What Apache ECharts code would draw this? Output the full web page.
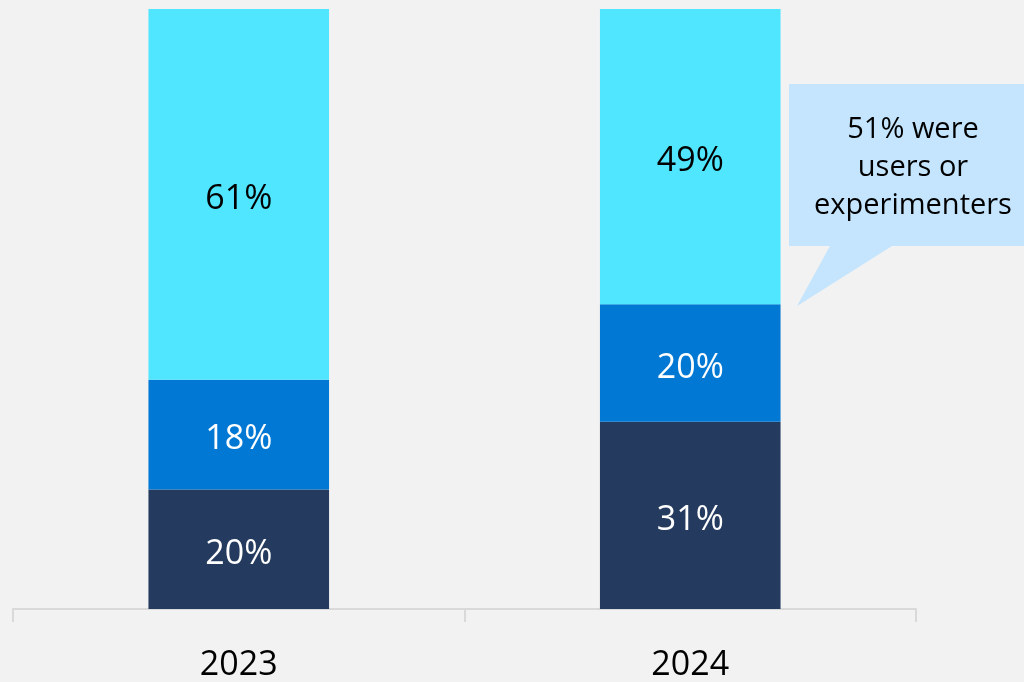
<!DOCTYPE html>
<html>
<head>
<meta charset="utf-8">
<script src="https://cdn.jsdelivr.net/npm/echarts@6/dist/echarts.min.js"></script>
<style>
  html, body { margin: 0; padding: 0; background: #f2f2f2; }
  #chart { width: 1024px; height: 682px; }
</style>
</head>
<body>
<div id="chart"></div>
<script>
// categories and stacked shares (bottom -> top)
const years = ['2023', '2024']
const bottomShare = [19.9, 31.2]
const middleShare = [18.3, 19.6]
const topShare = [61.8, 49.2]

// printed labels as shown on the chart
const bottomLabels = ['20%', '31%']
const middleLabels = ['18%', '20%']
const topLabels = ['61%', '49%']

const calloutText = '51% were\nusers or\nexperimenters'

const FONT = '"Open Sans", "Noto Sans", sans-serif'

const chart = echarts.init(document.getElementById('chart'))

function stackSeries(name, data, labels, color, textColor) {
  return {
    name,
    type: 'bar',
    stack: 'total',
    data,
    barWidth: '40%',
    itemStyle: { color },
    label: {
      show: true,
      position: 'inside',
      offset: [0, 5],
      formatter: p => labels[p.dataIndex],
      color: textColor,
      fontSize: 34,
      fontFamily: FONT
    },
    emphasis: { disabled: true }
  }
}

chart.setOption({
  backgroundColor: '#f2f2f2',
  animation: false,
  grid: { left: 13, right: 108, top: 9, bottom: 70 },
  xAxis: {
    type: 'category',
    data: years,
    axisLine: { lineStyle: { color: '#d9d9d9', width: 2 } },
    axisTick: { show: true, length: 13, lineStyle: { color: '#d9d9d9', width: 2 } },
    axisLabel: { color: '#000', fontSize: 34, fontFamily: FONT, margin: 39 }
  },
  yAxis: {
    type: 'value',
    min: 0,
    max: 100,
    show: false
  },
  series: [
    stackSeries('bottom', bottomShare, bottomLabels, '#243a5e', '#ffffff'),
    stackSeries('middle', middleShare, middleLabels, '#0078d4', '#ffffff'),
    stackSeries('top', topShare, topLabels, '#50e6ff', '#000000')
  ],
  graphic: [
    {
      type: 'polygon',
      shape: {
        points: [[789, 84], [1024, 84], [1024, 246], [892, 246], [797, 306], [830, 246], [789, 246]]
      },
      style: { fill: '#c4e5fd' }
    },
    {
      type: 'text',
      x: 913,
      y: 168,
      style: {
        text: calloutText,
        align: 'center',
        verticalAlign: 'middle',
        fontSize: 29,
        lineHeight: 38,
        fontFamily: FONT,
        fill: '#000'
      }
    }
  ]
})
</script>
</body>
</html>
